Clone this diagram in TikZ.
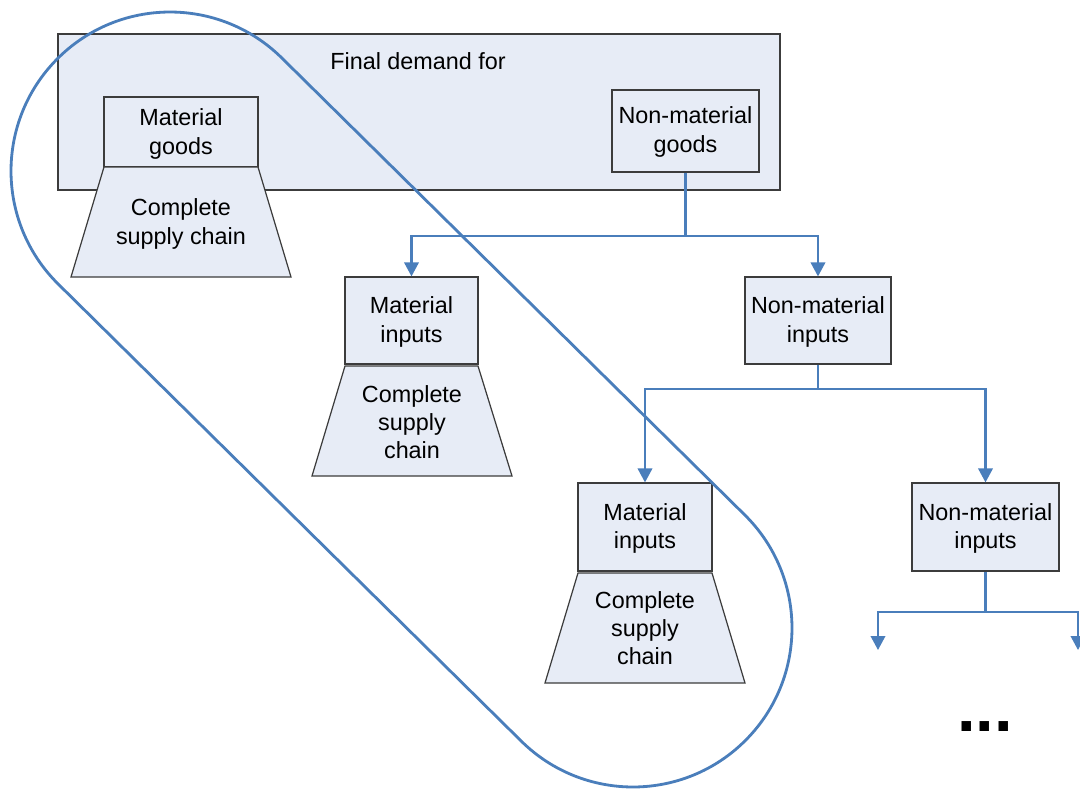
\documentclass[tikz,border=0pt]{standalone}
\usepackage{fontspec}
\setmainfont{Liberation Sans}
\usetikzlibrary{arrows.meta,calc}
\definecolor{boxfill}{HTML}{E7ECF6}
\definecolor{boxline}{HTML}{3C3C3C}
\definecolor{conblue}{HTML}{4A7EBB}
\begin{document}
\begin{tikzpicture}[x=0.02cm,y=-0.02cm,
  font=\fontsize{13.3pt}{16pt}\selectfont,
  box/.style={draw=boxline, fill=boxfill, line width=0.7pt, align=center, inner sep=0pt},
  conn/.style={draw=conblue, line width=1.2pt},
  arr/.style={conn, -{Triangle[width=0.29cm,length=0.28cm]}},
  trap/.style={draw=boxline, fill=boxfill, line width=0.7pt},
  lbl/.style={align=center, inner sep=0pt},
  loopline/.style={draw=conblue, line width=1.6pt}]
\useasboundingbox (0,0) rectangle (1080,789);

% big frame
\node[box, minimum width=14.44cm, minimum height=3.12cm] (fd) at (419,112) {};
\node[lbl] (fdt) at (418,61) {Final demand for};

% material goods
\node[box, minimum width=3.08cm, minimum height=1.4cm] (mg) at (181,132) {};
\node[lbl] (mgt) at (181,134) {Material\\goods};
\draw[trap] (104,167) -- (258,167) -- (291,277) -- (71,277) -- cycle;
\node[lbl] (t1) at (181,224) {Complete\\supply chain};

% non-material goods
\node[box, minimum width=2.94cm, minimum height=1.64cm] (ng) at (685.5,131) {};
\node[lbl] (ngt) at (685.5,132) {Non-material\\goods};

% level 1
\node[box, minimum width=2.66cm, minimum height=1.74cm] (mi1) at (411.5,320.5) {};
\node[lbl] (mi1t) at (411.5,322) {Material\\inputs};
\draw[trap] (345,366) -- (478,366) -- (512,476) -- (312,476) -- cycle;
\node[lbl] (t2) at (412,422) {Complete\\supply\\chain};
\node[box, minimum width=2.92cm, minimum height=1.74cm] (ni1) at (818,320.5) {};
\node[lbl] (ni1t) at (818,322) {Non-material\\inputs};

% level 2
\node[box, minimum width=2.68cm, minimum height=1.76cm] (mi2) at (645,527) {};
\node[lbl] (mi2t) at (645,528.5) {Material\\inputs};
\draw[trap] (578,573) -- (712,573) -- (745,683) -- (545,683) -- cycle;
\node[lbl] (t3) at (645,628.5) {Complete\\supply\\chain};
\node[box, minimum width=2.94cm, minimum height=1.76cm] (ni2) at (985.5,527) {};
\node[lbl] (ni2t) at (985.5,528.5) {Non-material\\inputs};

% connectors
\coordinate (j1) at (685.5,236);
\draw[conn] (ng.south) -- (j1);
\draw[arr] (j1) -| (mi1.north);
\draw[arr] (j1) -| (ni1.north);

\coordinate (j2) at (818,389);
\draw[conn] (ni1.south) -- (j2);
\draw[arr] (j2) -| (mi2.north);
\draw[arr] (j2) -| (ni2.north);

\coordinate (j3) at (985.5,612);
\coordinate (e1) at (878,650);
\coordinate (e2) at (1078,650);
\draw[conn] (ni2.south) -- (j3);
\draw[arr] (j3) -| (e1);
\draw[arr] (j3) -| (e2);

\node[font=\fontsize{38pt}{40pt}\selectfont\bfseries, anchor=base, inner sep=0pt] (dots) at (985,731) {...};

% loop
\coordinate (c1) at (170,171);
\coordinate (c2) at (633,628);
\draw[loopline] ($(c1)+(-45.4:159)$) -- ($(c2)+(-45.4:159)$)
  arc[start angle=-45.4, end angle=134.6, radius=159]
  -- ($(c1)+(134.6:159)$)
  arc[start angle=134.6, end angle=314.6, radius=159] -- cycle;
\end{tikzpicture}
\end{document}
